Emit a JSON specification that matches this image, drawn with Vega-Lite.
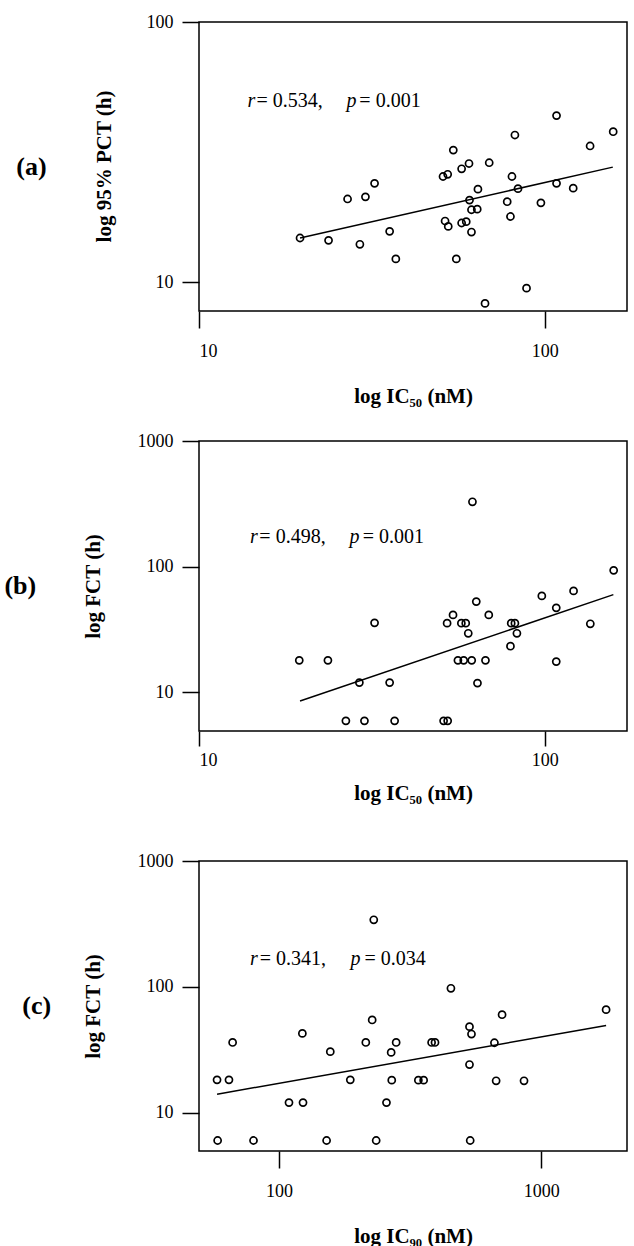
{
  "$schema": "https://vega.github.io/schema/vega-lite/v6.json",
  "background": "white",
  "padding": {"left": 3, "top": 12, "right": 5, "bottom": 5},
  "config": {
    "font": "Liberation Serif",
    "view": {"stroke": "black", "strokeWidth": 1.5},
    "axis": {
      "grid": false, "domain": false,
      "tickColor": "black", "tickSize": 17, "tickWidth": 1.5,
      "labelColor": "black", "labelFont": "Liberation Serif", "labelFontSize": 18,
      "titleFont": "Liberation Serif", "titleFontSize": 21, "titleFontWeight": "bold",
      "titleColor": "black", "titleBaseline": "middle"
    },
    "axisY": {"labelPadding": 9},
    "title": {"font": "Liberation Serif", "fontSize": 26, "fontWeight": "bold", "color": "black"}
  },
  "spacing": 130,
  "bounds": "flush",
  "vconcat": [
    {
      "title": {"text": "(a)", "orient": "left", "angle": 0, "anchor": "middle", "frame": "group", "align": "right", "baseline": "middle", "offset": 16},
      "width": 428, "height": 289,
      "layer": [
        {
          "data": {"values": [
            {"ic50": 19.6, "pct": 14.8}, {"ic50": 23.7, "pct": 14.5}, {"ic50": 29.2, "pct": 14.0}, {"ic50": 26.9, "pct": 20.9},
            {"ic50": 30.3, "pct": 21.3}, {"ic50": 32.2, "pct": 24.0}, {"ic50": 35.6, "pct": 15.7}, {"ic50": 37.1, "pct": 12.3},
            {"ic50": 54.4, "pct": 32.2}, {"ic50": 50.8, "pct": 25.5}, {"ic50": 52.4, "pct": 26.0}, {"ic50": 57.5, "pct": 27.3},
            {"ic50": 60.4, "pct": 28.6}, {"ic50": 69.1, "pct": 28.8}, {"ic50": 64.1, "pct": 22.8}, {"ic50": 60.6, "pct": 20.7},
            {"ic50": 61.4, "pct": 19.0}, {"ic50": 63.8, "pct": 19.1}, {"ic50": 51.5, "pct": 17.2}, {"ic50": 52.6, "pct": 16.4},
            {"ic50": 57.5, "pct": 16.9}, {"ic50": 59.3, "pct": 17.1}, {"ic50": 61.4, "pct": 15.6}, {"ic50": 55.5, "pct": 12.3},
            {"ic50": 82.0, "pct": 36.8}, {"ic50": 108.2, "pct": 43.7}, {"ic50": 157.8, "pct": 37.9}, {"ic50": 135.3, "pct": 33.4},
            {"ic50": 80.4, "pct": 25.5}, {"ic50": 83.7, "pct": 22.9}, {"ic50": 77.9, "pct": 20.4}, {"ic50": 79.6, "pct": 17.9},
            {"ic50": 97.5, "pct": 20.2}, {"ic50": 108.2, "pct": 24.0}, {"ic50": 120.9, "pct": 23.0}, {"ic50": 88.6, "pct": 9.5},
            {"ic50": 67.2, "pct": 8.3}
          ]},
          "mark": {"type": "point", "shape": "circle", "filled": false, "stroke": "black", "strokeWidth": 1.7, "size": 50, "opacity": 1},
          "encoding": {
            "x": {"field": "ic50", "type": "quantitative", "scale": {"type": "log", "domain": [10, 173], "nice": false},
                  "axis": {"values": [10, 100], "format": "d", "title": "log IC₅₀ (nM)", "labelPadding": 14, "titleX": 214, "titleY": 85}},
            "y": {"field": "pct", "type": "quantitative", "scale": {"type": "log", "domain": [7.76, 100], "nice": false},
                  "axis": {"values": [10, 100], "format": "d", "title": "log 95% PCT (h)", "titleX": -95, "titleY": 144}}
          }
        },
        {
          "data": {"values": [{"ic50": 19.6, "pct": 14.8}, {"ic50": 157.4, "pct": 27.7}]},
          "mark": {"type": "line", "color": "black", "strokeWidth": 1.5},
          "encoding": {"x": {"field": "ic50", "type": "quantitative"}, "y": {"field": "pct", "type": "quantitative"}}
        },
        {
          "data": {"values": [{"ic50": 13.81, "pct": 49.6, "t": "r"}, {"ic50": 26.69, "pct": 49.6, "t": "p"}]},
          "mark": {"type": "text", "fontStyle": "italic", "fontSize": 20, "align": "left", "baseline": "middle", "color": "black"},
          "encoding": {"x": {"field": "ic50", "type": "quantitative"}, "y": {"field": "pct", "type": "quantitative"}, "text": {"field": "t"}}
        },
        {
          "data": {"values": [{"ic50": 14.66, "pct": 49.6, "t": "= 0.534,"}, {"ic50": 29.1, "pct": 49.6, "t": "= 0.001"}]},
          "mark": {"type": "text", "fontSize": 20, "align": "left", "baseline": "middle", "color": "black"},
          "encoding": {"x": {"field": "ic50", "type": "quantitative"}, "y": {"field": "pct", "type": "quantitative"}, "text": {"field": "t"}}
        }
      ]
    },
    {
      "title": {"text": "(b)", "orient": "left", "angle": 0, "anchor": "middle", "frame": "group", "align": "right", "baseline": "middle", "offset": 14},
      "width": 428, "height": 290,
      "layer": [
        {
          "data": {"values": [
            {"ic50": 61.8, "fct": 328}, {"ic50": 19.5, "fct": 17.9}, {"ic50": 23.6, "fct": 17.9}, {"ic50": 32.2, "fct": 35.6},
            {"ic50": 29.1, "fct": 11.9}, {"ic50": 35.6, "fct": 11.9}, {"ic50": 26.6, "fct": 5.9}, {"ic50": 30.1, "fct": 5.9},
            {"ic50": 36.8, "fct": 5.9}, {"ic50": 51.0, "fct": 5.9}, {"ic50": 52.4, "fct": 5.9}, {"ic50": 63.4, "fct": 52.6},
            {"ic50": 54.3, "fct": 41.2}, {"ic50": 52.2, "fct": 35.4}, {"ic50": 57.4, "fct": 35.4}, {"ic50": 59.1, "fct": 35.4},
            {"ic50": 60.1, "fct": 29.4}, {"ic50": 68.9, "fct": 41.2}, {"ic50": 56.1, "fct": 17.9}, {"ic50": 58.3, "fct": 17.9},
            {"ic50": 61.5, "fct": 17.9}, {"ic50": 67.4, "fct": 17.9}, {"ic50": 63.9, "fct": 11.8}, {"ic50": 80.0, "fct": 35.4},
            {"ic50": 82.0, "fct": 35.4}, {"ic50": 83.1, "fct": 29.4}, {"ic50": 79.6, "fct": 23.2}, {"ic50": 98.1, "fct": 58.4},
            {"ic50": 108.0, "fct": 46.9}, {"ic50": 121.2, "fct": 64.0}, {"ic50": 158.3, "fct": 93.3}, {"ic50": 135.5, "fct": 35.0},
            {"ic50": 108.0, "fct": 17.5}
          ]},
          "mark": {"type": "point", "shape": "circle", "filled": false, "stroke": "black", "strokeWidth": 1.7, "size": 50, "opacity": 1},
          "encoding": {
            "x": {"field": "ic50", "type": "quantitative", "scale": {"type": "log", "domain": [10, 173], "nice": false},
                  "axis": {"values": [10, 100], "format": "d", "title": "log IC₅₀ (nM)", "labelPadding": 5, "tickSize": 15, "titleX": 214, "titleY": 62}},
            "y": {"field": "fct", "type": "quantitative", "scale": {"type": "log", "domain": [4.9, 1000], "nice": false},
                  "axis": {"values": [10, 100, 1000], "format": "d", "title": "log FCT (h)", "titleX": -106, "titleY": 145}}
          }
        },
        {
          "data": {"values": [{"ic50": 19.6, "fct": 8.5}, {"ic50": 158.0, "fct": 59.8}]},
          "mark": {"type": "line", "color": "black", "strokeWidth": 1.5},
          "encoding": {"x": {"field": "ic50", "type": "quantitative"}, "y": {"field": "fct", "type": "quantitative"}}
        },
        {
          "data": {"values": [{"ic50": 14.04, "fct": 172.9, "t": "r"}, {"ic50": 27.25, "fct": 172.9, "t": "p"}]},
          "mark": {"type": "text", "fontStyle": "italic", "fontSize": 20, "align": "left", "baseline": "middle", "color": "black"},
          "encoding": {"x": {"field": "ic50", "type": "quantitative"}, "y": {"field": "fct", "type": "quantitative"}, "text": {"field": "t"}}
        },
        {
          "data": {"values": [{"ic50": 14.95, "fct": 172.9, "t": "= 0.498,"}, {"ic50": 29.78, "fct": 172.9, "t": "= 0.001"}]},
          "mark": {"type": "text", "fontSize": 20, "align": "left", "baseline": "middle", "color": "black"},
          "encoding": {"x": {"field": "ic50", "type": "quantitative"}, "y": {"field": "fct", "type": "quantitative"}, "text": {"field": "t"}}
        }
      ]
    },
    {
      "title": {"text": "(c)", "orient": "left", "angle": 0, "anchor": "middle", "frame": "group", "align": "right", "baseline": "middle", "offset": 2},
      "width": 428, "height": 290,
      "layer": [
        {
          "data": {"values": [
            {"ic90": 229.7, "fct": 341}, {"ic90": 452.3, "fct": 97.3}, {"ic90": 1767, "fct": 65.8}, {"ic90": 708.8, "fct": 60.0},
            {"ic90": 226.5, "fct": 54.5}, {"ic90": 532.4, "fct": 48.2}, {"ic90": 541.8, "fct": 42.1}, {"ic90": 122.7, "fct": 42.6},
            {"ic90": 66.5, "fct": 36.1}, {"ic90": 214.2, "fct": 36.1}, {"ic90": 279.6, "fct": 36.1}, {"ic90": 381.7, "fct": 36.1},
            {"ic90": 393.3, "fct": 36.1}, {"ic90": 662.7, "fct": 35.9}, {"ic90": 156.8, "fct": 30.5}, {"ic90": 267.6, "fct": 30.1},
            {"ic90": 532.4, "fct": 24.1}, {"ic90": 58.0, "fct": 18.2}, {"ic90": 64.4, "fct": 18.2}, {"ic90": 186.9, "fct": 18.2},
            {"ic90": 269.0, "fct": 18.1}, {"ic90": 339.8, "fct": 18.1}, {"ic90": 355.9, "fct": 18.1}, {"ic90": 672.7, "fct": 17.9},
            {"ic90": 859.4, "fct": 17.9}, {"ic90": 109.1, "fct": 12.0}, {"ic90": 123.4, "fct": 12.0}, {"ic90": 256.8, "fct": 12.0},
            {"ic90": 58.3, "fct": 6.0}, {"ic90": 79.9, "fct": 6.0}, {"ic90": 151.8, "fct": 6.0}, {"ic90": 234.6, "fct": 6.0},
            {"ic90": 535.7, "fct": 6.0}
          ]},
          "mark": {"type": "point", "shape": "circle", "filled": false, "stroke": "black", "strokeWidth": 1.7, "size": 50, "opacity": 1},
          "encoding": {
            "x": {"field": "ic90", "type": "quantitative", "scale": {"type": "log", "domain": [49.5, 2123], "nice": false},
                  "axis": {"values": [100, 1000], "format": "d", "title": "log IC₉₀ (nM)", "labelPadding": 14, "titleX": 214, "titleY": 85}},
            "y": {"field": "fct", "type": "quantitative", "scale": {"type": "log", "domain": [4.95, 1000], "nice": false},
                  "axis": {"values": [10, 100, 1000], "format": "d", "title": "log FCT (h)", "titleX": -106, "titleY": 145}}
          }
        },
        {
          "data": {"values": [{"ic90": 58.0, "fct": 14.0}, {"ic90": 1767, "fct": 49.3}]},
          "mark": {"type": "line", "color": "black", "strokeWidth": 1.5},
          "encoding": {"x": {"field": "ic90", "type": "quantitative"}, "y": {"field": "fct", "type": "quantitative"}}
        },
        {
          "data": {"values": [{"ic90": 77.4, "fct": 166.9, "t": "r"}, {"ic90": 187.4, "fct": 166.9, "t": "p"}]},
          "mark": {"type": "text", "fontStyle": "italic", "fontSize": 20, "align": "left", "baseline": "middle", "color": "black"},
          "encoding": {"x": {"field": "ic90", "type": "quantitative"}, "y": {"field": "fct", "type": "quantitative"}, "text": {"field": "t"}}
        },
        {
          "data": {"values": [{"ic90": 84.4, "fct": 166.9, "t": "= 0.341,"}, {"ic90": 211.8, "fct": 166.9, "t": "= 0.034"}]},
          "mark": {"type": "text", "fontSize": 20, "align": "left", "baseline": "middle", "color": "black"},
          "encoding": {"x": {"field": "ic90", "type": "quantitative"}, "y": {"field": "fct", "type": "quantitative"}, "text": {"field": "t"}}
        }
      ]
    }
  ]
}
